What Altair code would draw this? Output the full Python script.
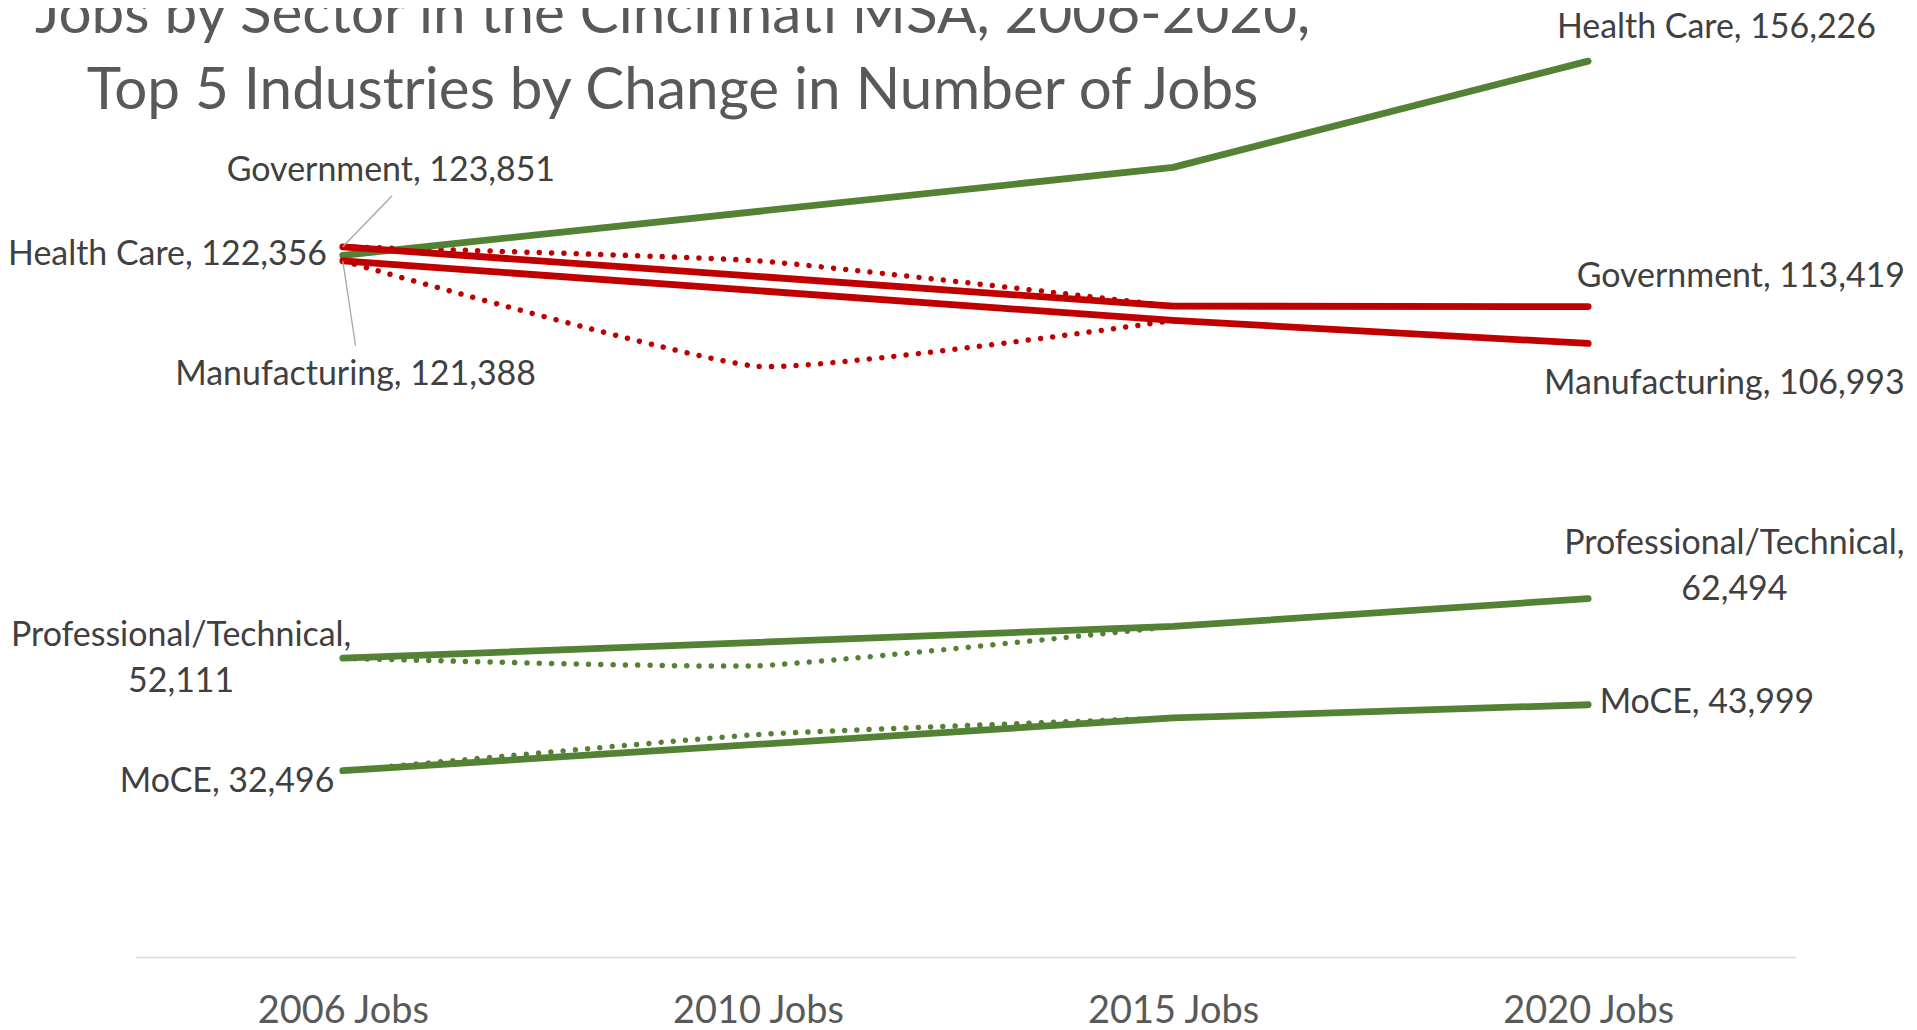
import altair as alt
import pandas as pd

# ---- data ----
years = ["2006 Jobs", "2010 Jobs", "2015 Jobs", "2020 Jobs"]
sectors = ["Health Care", "Government", "Manufacturing", "Professional/Technical", "MoCE"]
trend = ["Growth", "Decline", "Decline", "Growth", "Growth"]
jobs_2006 = [122356, 123851, 121388, 52111, 32496]
jobs_2010 = [130000, 121400, 103000, 50800, 38800]   # estimated from dotted lines
jobs_2015 = [137700, 113500, 111000, 57650, 41700]   # estimated
jobs_2020 = [156226, 113419, 106993, 62494, 43999]
title_lines = ["Jobs by Sector in the Cincinnati MSA, 2006-2020,",
               "Top 5 Industries by Change in Number of Jobs"]

solid_rows, dot_rows, label_rows = [], [], []
for i, s in enumerate(sectors):
    for yr, v in [(years[0], jobs_2006[i]), (years[2], jobs_2015[i]), (years[3], jobs_2020[i])]:
        solid_rows.append({"sector": s, "trend": trend[i], "year": yr, "jobs": v})
    for yr, v in [(years[0], jobs_2006[i]), (years[1], jobs_2010[i]), (years[2], jobs_2015[i])]:
        dot_rows.append({"sector": s, "trend": trend[i], "year": yr, "jobs": v})
    for yr, v in [(years[0], jobs_2006[i]), (years[3], jobs_2020[i])]:
        sep = ",\n" if s == "Professional/Technical" else ", "
        label_rows.append({"sector": s, "year": yr, "jobs": v, "label": f"{s}{sep}{v:,}"})

solid_df = pd.DataFrame(solid_rows)
dot_df = pd.DataFrame(dot_rows)
label_df = pd.DataFrame(label_rows)
title_df = pd.DataFrame({"title": ["\n".join(title_lines)]})

GREEN = "#548235"
RED = "#C00000"
FONT = "Lato"
LABEL_SIZE = 34
LABEL_COLOR = "#404040"

x_enc = alt.X("year:O", scale=alt.Scale(domain=years, type="point", padding=0.5),
              axis=alt.Axis(title=None, labelAngle=0, ticks=False, tickSize=0,
                            domainColor="#D9D9D9", domainWidth=1.5,
                            labelFont=FONT, labelFontSize=38, labelColor="#595959",
                            labelBaseline="alphabetic", labelPadding=66, grid=False))
y_enc = alt.Y("jobs:Q", scale=alt.Scale(domain=[0, 165300], nice=False, zero=True), axis=None)
color_enc = alt.Color("trend:N", scale=alt.Scale(domain=["Growth", "Decline"], range=[GREEN, RED]),
                      legend=None)

dotted = alt.Chart(dot_df).mark_line(
    strokeWidth=5.5, strokeDash=[0.01, 12.3], strokeCap="round",
    interpolate="cardinal", tension=0.55
).encode(x=x_enc, y=y_enc, color=color_enc, detail="sector:N")

solid = alt.Chart(solid_df).mark_line(
    strokeWidth=6.8, strokeCap="round", strokeJoin="round"
).encode(x=x_enc, y=y_enc, color=color_enc, detail="sector:N")

# leader lines for the crowded 2006 labels
leaders = []
for sec, ox, oy in [("Government", 49.4, -51.2), ("Manufacturing", 12.8, 85.0)]:
    leaders.append(
        alt.Chart(label_df).transform_filter(
            (alt.datum.sector == sec) & (alt.datum.year == years[0])
        ).mark_rule(color="#A6A6A6", strokeWidth=1.3, x2Offset=ox, y2Offset=oy).encode(
            x=x_enc, y=y_enc, x2="year:O", y2="jobs:Q")
    )

# label placement styles: (sector, year, align, dx, dy)
placements = [
    ("Health Care", years[0], "right", -15.8, 9.2),
    ("Government", years[0], "center", 48.2, -66.2),
    ("Manufacturing", years[0], "center", 12.8, 124.7),
    ("Professional/Technical", years[0], "center", -162.0, -12.5),
    ("MoCE", years[0], "right", -8.5, 21.8),
    ("Health Care", years[3], "center", 128.5, -23.4),
    ("Government", years[3], "center", 153.0, -19.4),
    ("Manufacturing", years[3], "center", 136.5, 50.2),
    ("Professional/Technical", years[3], "center", 146.5, -44.8),
    ("MoCE", years[3], "left", 11.5, 7.9),
]
labels = []
for sec, yr, al, dx, dy in placements:
    labels.append(
        alt.Chart(label_df).transform_filter(
            (alt.datum.sector == sec) & (alt.datum.year == yr)
        ).mark_text(align=al, baseline="alphabetic", dx=dx, dy=dy, font=FONT,
                    fontSize=LABEL_SIZE, color=LABEL_COLOR, lineBreak="\n", lineHeight=46
        ).encode(x=x_enc, y=y_enc, text="label:N")
    )

title = alt.Chart(title_df).mark_text(
    align="center", baseline="alphabetic", font=FONT, fontSize=58.5, color="#595959",
    lineBreak="\n", lineHeight=76
).encode(x=alt.value(538.5), y=alt.value(24), text="title:N")

chart = alt.layer(dotted, solid, *leaders, *labels, title).properties(
    width=1664, height=950,
    padding={"left": 127.5, "top": 0, "right": 113.5, "bottom": 72},
    autosize=alt.AutoSizeParams(type="none"),
    background="white",
).configure_view(stroke=None)

chart.save("out.html", embed_options={"renderer": "svg", "actions": False})
